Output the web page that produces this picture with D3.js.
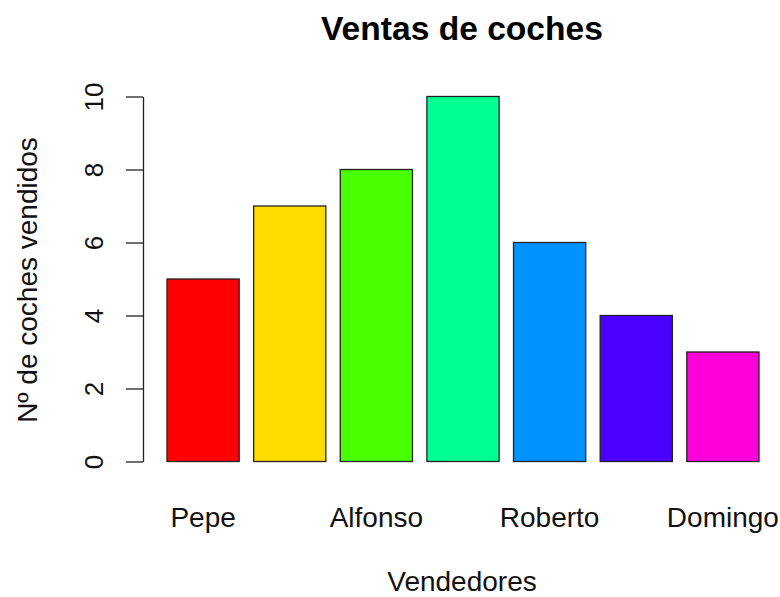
<!DOCTYPE html>
<html>
<head>
<meta charset="utf-8">
<script src="https://cdn.jsdelivr.net/npm/d3@7"></script>
<style>
  body { margin: 0; background: #fff; }
  text { font-family: "Liberation Sans", Arial, sans-serif; }
</style>
</head>
<body>
<div id="chart"></div>
<script>
const WIDTH = 780;
const HEIGHT = 597;

// R barplot, names.arg only partly drawn (overlapping labels skipped)
const vendedores = ['Pepe', 'Juan', 'Alfonso', 'Luis', 'Roberto', 'Carlos', 'Domingo'];
const ventas = [5, 7, 8, 10, 6, 4, 3];
const colores = ['#FF0000', '#FFDB00', '#49FF00', '#00FF92', '#0092FF', '#4900FF', '#FF00DB'];
const yTicks = [0, 2, 4, 6, 8, 10];

const FS = 28;

const svg = d3.select('#chart').append('svg')
  .attr('width', WIDTH)
  .attr('height', HEIGHT);

// bar i spans [0.2 + 1.2 i, 1.2 + 1.2 i] in user units
const x = d3.scaleLinear().domain([0.2, 8.4]).range([167, 759]);
const y = d3.scaleLinear().domain([0, 10]).range([461.5, 96.5]);

svg.selectAll('rect.bar')
  .data(ventas)
  .join('rect')
  .attr('class', 'bar')
  .attr('x', (d, i) => x(0.2 + 1.2 * i))
  .attr('width', (d, i) => x(1.2 + 1.2 * i) - x(0.2 + 1.2 * i))
  .attr('y', d => y(d))
  .attr('height', d => y(0) - y(d))
  .attr('fill', (d, i) => colores[i])
  .attr('stroke', '#222')
  .attr('stroke-width', 1.3);

// y axis
const yAxis = svg.append('g')
  .attr('transform', 'translate(143,0)')
  .call(d3.axisLeft(y).tickValues(yTicks).tickSize(17).tickPadding(0).tickSizeOuter(0));
yAxis.select('.domain').attr('stroke', '#222').attr('stroke-width', 1.3);
yAxis.selectAll('.tick line').attr('stroke', '#222').attr('stroke-width', 1.3);
yAxis.selectAll('.tick text')
  .attr('font-size', 26)
  .attr('fill', '#111')
  .attr('text-anchor', 'middle')
  .attr('transform', 'translate(-40,0) rotate(-90)')
  .attr('x', 0)
  .attr('dy', 0);

// category labels (every other one, like R does)
svg.selectAll('text.cat')
  .data(vendedores.filter((d, i) => i % 2 === 0))
  .join('text')
  .attr('class', 'cat')
  .attr('x', (d, j) => x(0.7 + 1.2 * (2 * j)))
  .attr('y', 527)
  .attr('text-anchor', 'middle')
  .attr('font-size', FS)
  .attr('fill', '#111')
  .text(d => d);

// title
svg.append('text')
  .attr('x', 462)
  .attr('y', 40)
  .attr('text-anchor', 'middle')
  .attr('font-size', FS * 1.2)
  .attr('font-weight', 'bold')
  .attr('fill', '#000')
  .text('Ventas de coches');

svg.append('text')
  .attr('x', 462)
  .attr('y', 591)
  .attr('text-anchor', 'middle')
  .attr('font-size', FS)
  .attr('fill', '#111')
  .text('Vendedores');

svg.append('text')
  .attr('transform', 'translate(37,280) rotate(-90)')
  .attr('text-anchor', 'middle')
  .attr('font-size', FS)
  .attr('fill', '#111')
  .text('Nº de coches vendidos');
</script>
</body>
</html>
